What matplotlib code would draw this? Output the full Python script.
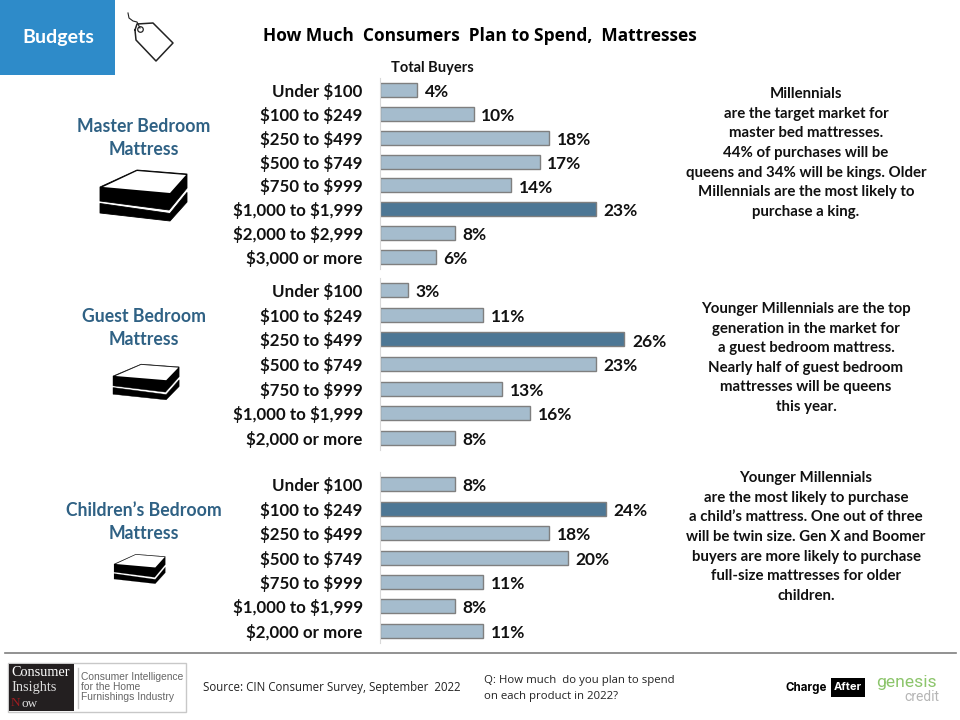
import matplotlib
matplotlib.use("Agg")
import matplotlib.pyplot as plt
from matplotlib.patches import Polygon, Rectangle

plt.rcParams['font.family'] = ['Lato', 'DejaVu Sans']

W, H = 960, 720
PX_PER_PCT = 9.42

# data
master_labels = ["Under \\$100", "\\$100 to \\$249", "\\$250 to \\$499", "\\$500 to \\$749", "\\$750 to \\$999",
                 "\\$1,000 to \\$1,999", "\\$2,000 to \\$2,999", "\\$3,000 or more"]
master_values = [4, 10, 18, 17, 14, 23, 8, 6]
guest_labels = ["Under \\$100", "\\$100 to \\$249", "\\$250 to \\$499", "\\$500 to \\$749", "\\$750 to \\$999",
                "\\$1,000 to \\$1,999", "\\$2,000 or more"]
guest_values = [3, 11, 26, 23, 13, 16, 8]
child_labels = guest_labels
child_values = [8, 24, 18, 20, 11, 8, 11]

master_note = ("Millennials\nare the target market for\nmaster bed mattresses.\n44% of purchases will be\n"
               "queens and 34% will be kings. Older\nMillennials are the most likely to\npurchase a king.")
guest_note = ("Younger Millennials are the top\ngeneration in the market for\na guest bedroom mattress.\n"
              "Nearly half of guest bedroom\nmattresses will be queens\nthis year.")
child_note = ("Younger Millennials\nare the most likely to purchase\na child\u2019s mattress. One out of three\n"
              "will be twin size. Gen X and Boomer\nbuyers are more likely to purchase\n"
              "full-size mattresses for older\nchildren.")

LIGHT = "#a5bccd"
DARK = "#4d7795"
EDGE = "#7f7f7f"
HEAD = "#2f6184"

fig = plt.figure(figsize=(W / 100, H / 100), dpi=100)

# overlay in pixel coordinates for everything that is not a bar chart
bg = fig.add_axes([0, 0, 1, 1])
bg.set_xlim(0, W)
bg.set_ylim(H, 0)
bg.axis("off")


def bar_group(labels, values, top, bottom):
    ax = fig.add_axes([379.5 / W, 1 - bottom / H, 300 / W, (bottom - top) / H])
    pos = list(range(len(values)))
    top_val = max(values)
    colors = [DARK if v == top_val else LIGHT for v in values]
    # bar height is about 14 px whatever the row spacing is
    ax.barh(pos, values, height=14 / ((bottom - top) / len(values)), color=colors, edgecolor=EDGE, linewidth=1)
    ax.set_xlim(0, 300 / PX_PER_PCT)
    ax.set_ylim(len(values) - 0.5, -0.5)
    ax.set_yticks(pos)
    ax.set_yticklabels(labels, fontsize=12.2, fontweight="bold", color="#111111")
    ax.tick_params(axis="y", length=0, pad=12)
    ax.xaxis.set_visible(False)
    for s in ["top", "right", "bottom"]:
        ax.spines[s].set_visible(False)
    ax.spines["left"].set_color("#d9d9d9")
    for p, v in zip(pos, values):
        ax.annotate(f"{v}%", (v, p), xytext=(5.5, -1.5), textcoords="offset points", va="center",
                    fontsize=12.5, fontweight="bold", color="#111111")
    ax.patch.set_alpha(0)


def mattress(x, y, s, sy=None, lw=1.0):
    # x, y = left end of the top face, s = scale from the largest icon
    sy = s if sy is None else sy

    def pts(lst):
        return [(x + a * s, y + b * sy) for a, b in lst]
    bg.add_patch(Polygon(pts([(0, 0), (37, -17), (87, -13), (87, 1), (69, 23), (0, 14)]),
                         fc="black", ec="black", lw=lw, joinstyle="round"))
    bg.add_patch(Polygon(pts([(3, 0), (37, -16), (86, -12), (70, 6)]), fc="white", ec="none"))
    bg.add_patch(Polygon(pts([(0, 16.5), (70, 26.5), (87, 5.5), (87, 15), (70, 34), (0, 26)]),
                         fc="black", ec="black", lw=lw, joinstyle="round"))


def logo_text(x, y, txt, **kw):
    bg.text(x, y, txt, va="center", **kw)


bar_group(master_labels, master_values, 78, 269)
bar_group(guest_labels, guest_values, 278, 450)
bar_group(child_labels, child_values, 472, 643)

# header
bg.add_patch(Rectangle((0, 0), 115, 75, fc="#2e8bc9", ec="none"))
bg.text(58, 38, "Budgets", ha="center", va="center", color="white", fontsize=14, fontweight="bold")
bg.text(480, 36, "How Much  Consumers  Plan to Spend,  Mattresses", ha="center", va="center",
        fontsize=12.5, fontweight="bold", family="Open Sans", color="black")
bg.text(432, 68, "Total Buyers", ha="center", va="center", fontsize=10.5, fontweight="bold", color="#111111")

# price tag
bg.plot([135, 137, 153, 173, 156, 136, 135], [30, 24, 23, 43, 61, 40, 30], color="#222222", lw=1.1,
        solid_joinstyle="round")
bg.plot([128, 129, 133, 137, 140], [13, 18, 21, 22, 28], color="#222222", lw=0.8)
bg.plot([140], [29], "o", mfc="none", mec="#222222", ms=4, mew=0.9)

# section headings
for yy, name in [(138, "Master Bedroom\nMattress"), (328, "Guest Bedroom\nMattress"),
                 (522, "Children\u2019s Bedroom\nMattress")]:
    bg.text(144, yy, name, ha="center", va="center", color=HEAD, fontsize=12.7, fontweight="bold", linespacing=1.42)

mattress(100, 187, 1.0, lw=0.6)
mattress(113, 376, 0.76, 0.7, lw=0.3)
mattress(114, 564, 0.59, 0.58, lw=0.1)

# side notes
for yy, note in [(153, master_note), (358, guest_note), (537, child_note)]:
    bg.text(806, yy, note, ha="center", va="center", fontsize=10.8, fontweight="bold",
            color="#111111", linespacing=1.51)

# footer
bg.plot([5, 956], [652.5, 652.5], color="#7f7f7f", lw=1.2)
bg.add_patch(Rectangle((8, 663), 178, 49, fc="white", ec="#c8c8c8", lw=1))
bg.add_patch(Rectangle((9, 664), 65, 47, fc="#231f20", ec="none"))
bg.plot([77.5, 77.5], [668, 708], color="#c8c8c8", lw=1)
logo_text(11, 672.5, "Consumer", family="Liberation Serif", color="white", fontsize=10.3)
logo_text(11, 688, "Insights", family="Liberation Serif", color="#dddddd", fontsize=10.3)
logo_text(11, 703, "N", family="Liberation Serif", color="#a01c20", fontsize=9.5)
logo_text(21, 704, "ow", family="Liberation Serif", color="#dddddd", fontsize=9.5)
for yy, t in [(677, "Consumer Intelligence"), (687, "for the Home"), (697, "Furnishings Industry")]:
    logo_text(81, yy, t, family="Liberation Sans", color="#666666", fontsize=7.4)
bg.text(203, 688, "Source: CIN Consumer Survey, September  2022", va="center", fontsize=8.3, color="#222222",
        family="Open Sans")
bg.text(484, 681, "Q: How much  do you plan to spend", va="center", fontsize=8.2, color="#222222", family="Open Sans")
bg.text(484, 697, "on each product in 2022?", va="center", fontsize=8.2, color="#222222", family="Open Sans")

logo_text(786, 688, "Charge", family="Inter", fontweight="bold", fontsize=8.3, color="black")
bg.add_patch(Rectangle((830.5, 678), 34, 19, fc="black", ec="none"))
bg.text(847.5, 687.5, "After", ha="center", va="center", family="Inter", fontweight="bold", fontsize=8, color="white")
bg.text(906.5, 683, "genesis", ha="center", va="center", family="Roboto", fontsize=12.6, color="#8cc56b")
bg.text(939, 697, "credit", ha="right", va="center", family="Roboto", fontsize=10, color="#b5b5b5")

fig.savefig("out.png", dpi=100)
